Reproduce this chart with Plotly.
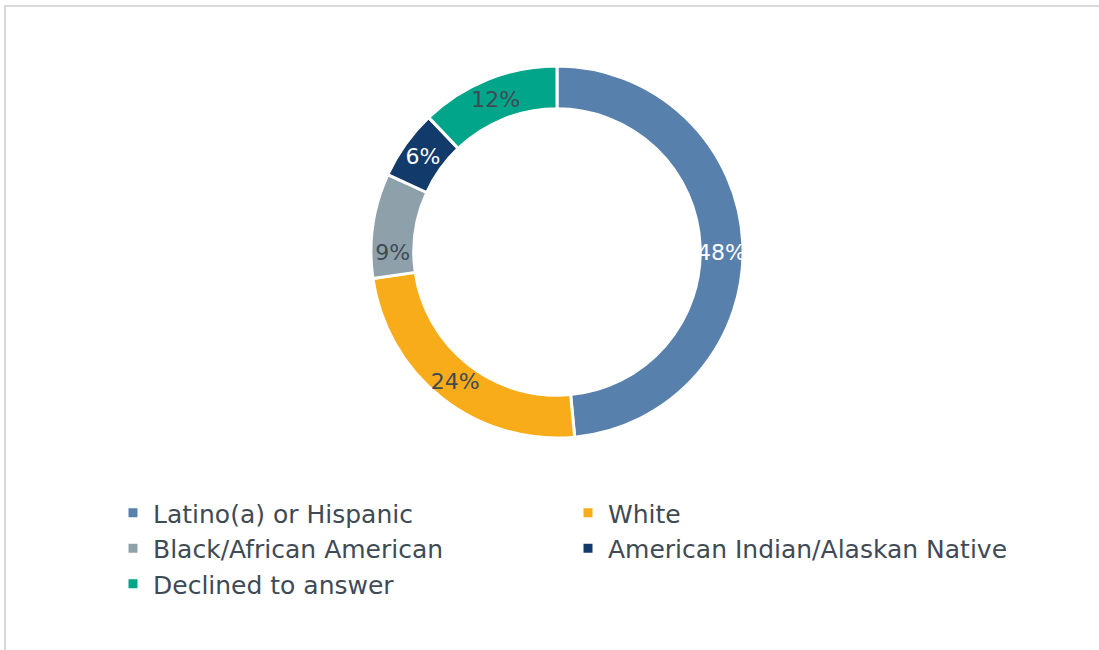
import plotly.graph_objects as go

categories = ["Latino(a) or Hispanic", "White", "Black/African American",
              "American Indian/Alaskan Native", "Declined to answer"]
values = [48, 24, 9, 6, 12]
colors = ["#5880AD", "#F9AC1A", "#8EA1AB", "#123A6B", "#00A58A"]
label_colors = ["#FFFFFF", "#404A55", "#404A55", "#FFFFFF", "#404A55"]

W, H = 1099, 650
cx, cy, r = 557, 252, 186

fig = go.Figure(go.Pie(
    labels=categories,
    values=values,
    text=[f"{v}%" for v in values],
    texttemplate="%{text}",
    textinfo="text",
    textposition="inside",
    insidetextorientation="horizontal",
    insidetextfont=dict(color=label_colors, size=22, family="DejaVu Sans"),
    hole=0.77,
    sort=False,
    direction="clockwise",
    rotation=0,
    marker=dict(colors=colors, line=dict(color="white", width=3)),
    domain=dict(x=[(cx - r) / W, (cx + r) / W], y=[1 - (cy + r) / H, 1 - (cy - r) / H]),
    hoverinfo="label+percent",
))

fig.update_layout(
    width=W, height=H,
    margin=dict(l=0, r=0, t=0, b=0),
    paper_bgcolor="white",
    plot_bgcolor="white",
    font=dict(family="DejaVu Sans", color="#404A55"),
    uniformtext=dict(minsize=22, mode="show"),
    showlegend=True,
    legend=dict(
        orientation="h",
        x=113 / W, xanchor="left",
        y=1 - 490 / H, yanchor="top",
        entrywidth=410, entrywidthmode="pixels",
        font=dict(size=25, color="#404A55", family="DejaVu Sans"),
        bgcolor="rgba(0,0,0,0)",
        traceorder="normal",
    ),
    shapes=[dict(type="rect", xref="paper", yref="paper",
                 x0=5 / W, x1=1.02, y0=-0.02, y1=1 - 6 / H,
                 line=dict(color="#D9D9D9", width=2), fillcolor="rgba(0,0,0,0)",
                 layer="below")],
)

fig.write_html("out.html", config={"displayModeBar": False},
               post_script="document.body.style.margin='0';document.body.style.overflow='hidden';")
